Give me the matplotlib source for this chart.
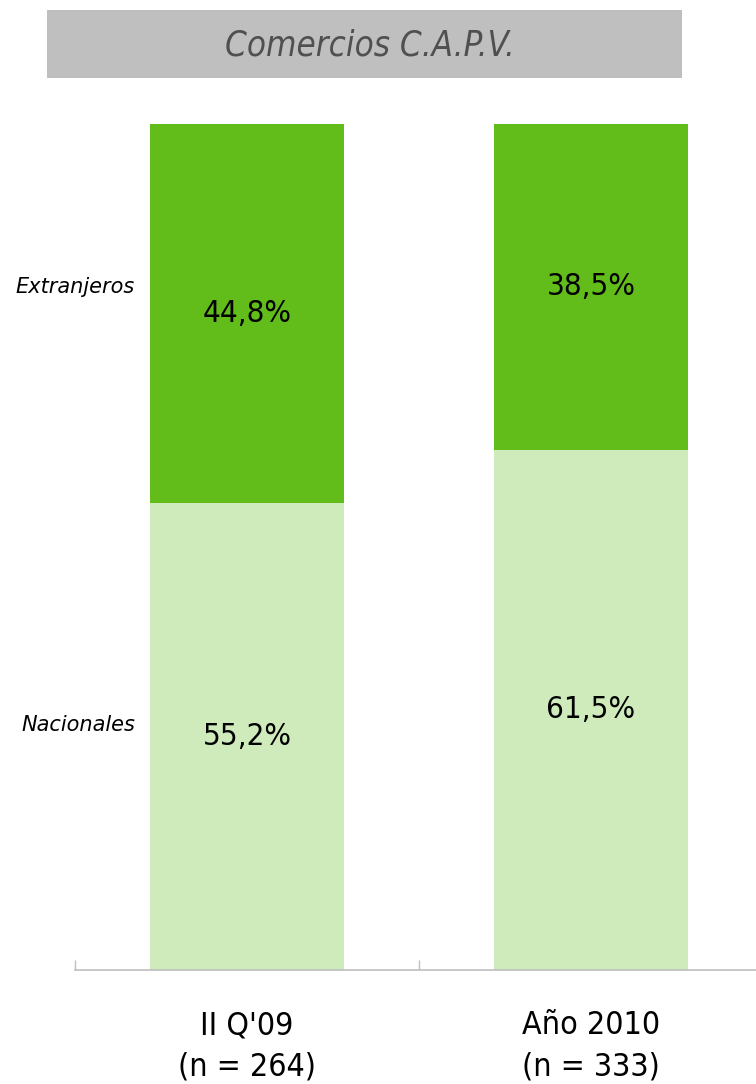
import matplotlib
matplotlib.use("Agg")
import matplotlib.pyplot as plt
from matplotlib import font_manager
from matplotlib.patches import Rectangle
from matplotlib.transforms import blended_transform_factory

# Data
periods = ["II Q'09", "Año 2010"]
samples = ["(n = 264)", "(n = 333)"]
nacionales = [55.2, 61.5]
extranjeros = [44.8, 38.5]
series_names = ["Nacionales", "Extranjeros"]
title = "Comercios C.A.P.V."

dark_green = "#62BC19"
light_green = "#CFEBBC"
axis_gray = "#BFBFBF"

W, H = 756, 1084
fig = plt.figure(figsize=(W / 100, H / 100), dpi=100)

# Prefer a condensed face for the title and labels
names = {f.name for f in font_manager.fontManager.ttflist}
if "DejaVu Sans Condensed" in names:
    narrow = dict(family="DejaVu Sans Condensed")
else:
    narrow = dict(family="DejaVu Sans", stretch="condensed")

# Title banner
fig.patches.append(Rectangle((47 / W, 1 - 78 / H), (682 - 47) / W, 68 / H,
                             transform=fig.transFigure, facecolor="#BFBFBF",
                             edgecolor="none", zorder=0))
fig.text(370 / W, 1 - 46 / H, title, ha="center", va="center",
         fontsize=25, style="italic", color="#505050", **narrow)

ax = fig.add_axes([75 / W, 1 - 970 / H, (763 - 75) / W, (970 - 124) / H])
x = list(range(len(periods)))
b1 = ax.bar(x, nacionales, width=0.565, color=light_green, zorder=2)
b2 = ax.bar(x, extranjeros, width=0.565, bottom=nacionales, color=dark_green, zorder=2)

for bars, vals in ((b1, nacionales), (b2, extranjeros)):
    ax.bar_label(bars, labels=[f"{v:.1f}%".replace(".", ",") for v in vals],
                 label_type="center", fontsize=22.5, color="black", **narrow)

ax.set_xlim(-0.5, 1.5)
ax.set_ylim(0, 100)
for s in ("left", "right", "top"):
    ax.spines[s].set_visible(False)
ax.spines["bottom"].set_color(axis_gray)
ax.spines["bottom"].set_linewidth(1.2)
ax.set_yticks([])
ax.set_xticks([-0.5, 0.5, 1.5])
ax.set_xticklabels([])
ax.tick_params(axis="x", direction="in", length=7, color=axis_gray, width=1)

trans = blended_transform_factory(ax.transData, fig.transFigure)
for xi, p, n in zip(x, periods, samples):
    ax.text(xi, 1 - 1026 / H, p, transform=trans, ha="center", va="center",
            fontsize=23, color="black", **narrow)
    ax.text(xi, 1 - 1067 / H, n, transform=trans, ha="center", va="center",
            fontsize=23, color="black", **narrow)

# Series labels at the left
fig.text(135 / W, 1 - 287 / H, series_names[1], ha="right", va="center",
         fontsize=15, style="italic", color="black")
fig.text(135 / W, 1 - 725 / H, series_names[0], ha="right", va="center",
         fontsize=15, style="italic", color="black")

fig.savefig("out.png", dpi=100)
